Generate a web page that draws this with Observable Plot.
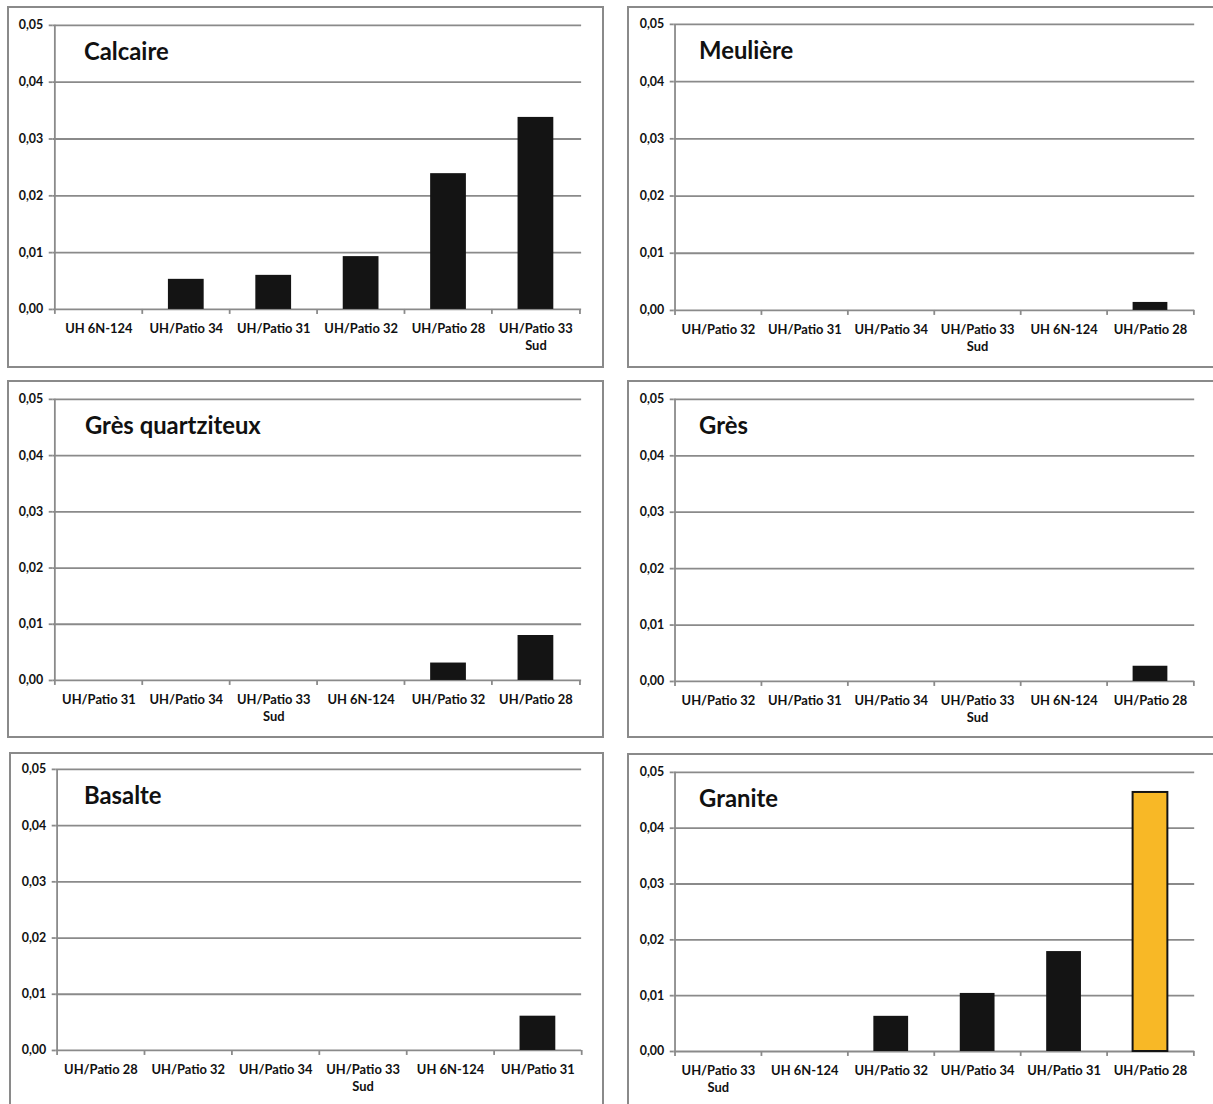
<!DOCTYPE html>
<html>
<head>
<meta charset="utf-8">
<script src="https://cdn.jsdelivr.net/npm/d3@7"></script>
<script src="https://cdn.jsdelivr.net/npm/@observablehq/plot@0.6"></script>
<style>
  html, body { margin: 0; padding: 0; background: #ffffff; }
  body { width: 1213px; height: 1104px; position: relative; overflow: hidden; font-family: Lato, sans-serif; }
  .panel { position: absolute; border: 2px solid #8a8a8a; box-sizing: border-box; background: #fff; }
  .panel svg { position: absolute; left: -2px; top: -2px; }
  .panel svg text { font-weight: 700; }
</style>
</head>
<body>
<script>
// ---- Data ----
const titles = ["Calcaire", "Meulière", "Grès quartziteux", "Grès", "Basalte", "Granite"];

const calcaireCats = ["UH 6N-124", "UH/Patio 34", "UH/Patio 31", "UH/Patio 32", "UH/Patio 28", "UH/Patio 33 Sud"];
const calcaireVals = [0, 0.0053, 0.0060, 0.0093, 0.0239, 0.0338];

const meuliereCats = ["UH/Patio 32", "UH/Patio 31", "UH/Patio 34", "UH/Patio 33 Sud", "UH 6N-124", "UH/Patio 28"];
const meuliereVals = [0, 0, 0, 0, 0, 0.0014];

const gresQuartzCats = ["UH/Patio 31", "UH/Patio 34", "UH/Patio 33 Sud", "UH 6N-124", "UH/Patio 32", "UH/Patio 28"];
const gresQuartzVals = [0, 0, 0, 0, 0.0031, 0.0080];

const gresCats = ["UH/Patio 32", "UH/Patio 31", "UH/Patio 34", "UH/Patio 33 Sud", "UH 6N-124", "UH/Patio 28"];
const gresVals = [0, 0, 0, 0, 0, 0.0027];

const basalteCats = ["UH/Patio 28", "UH/Patio 32", "UH/Patio 34", "UH/Patio 33 Sud", "UH 6N-124", "UH/Patio 31"];
const basalteVals = [0, 0, 0, 0, 0, 0.0061];

const graniteCats = ["UH/Patio 33 Sud", "UH 6N-124", "UH/Patio 32", "UH/Patio 34", "UH/Patio 31", "UH/Patio 28"];
const graniteVals = [0, 0, 0.0063, 0.0104, 0.0179, 0.0464];

const highlightPanel = "Granite";
const highlightCat = "UH/Patio 28";

const yTicks = [0, 0.01, 0.02, 0.03, 0.04, 0.05];

// ---- Layout (pixels) ----
const layout = [
  {box: [7, 6, 597, 362],   plot: [53, 25, 585, 311],    titleDx: 31},
  {box: [627, 6, 600, 362], plot: [674, 24, 1198, 312],  titleDx: 25},
  {box: [7, 380, 597, 358], plot: [53, 399, 585, 682],   titleDx: 32},
  {box: [627, 380, 600, 358], plot: [674, 399, 1198, 683], titleDx: 25},
  {box: [9, 752, 595, 362], plot: [56, 769, 585, 1052],  titleDx: 28},
  {box: [627, 753, 600, 362], plot: [674, 772, 1198, 1053], titleDx: 25}
];

const series = [
  [calcaireCats, calcaireVals],
  [meuliereCats, meuliereVals],
  [gresQuartzCats, gresQuartzVals],
  [gresCats, gresVals],
  [basalteCats, basalteVals],
  [graniteCats, graniteVals]
];

const GRID = "#8a8a8a";
const INK = "#141414";
const GOLD = "#f8b826";

series.forEach(([cats, vals], k) => {
  const title = titles[k];
  const L = layout[k];
  const [bx, by, bw, bh] = L.box;
  const [px0, py0, px1, py1] = L.plot;
  const mL = px0 - bx, mT = py0 - by, mR = bx + bw - px1, mB = by + bh - py1;
  const plotW = px1 - px0, plotH = py1 - py0;
  const band = plotW / cats.length;
  const data = cats.map((c, i) => ({cat: c, v: vals[i], hi: title === highlightPanel && c === highlightCat}));

  const chart = Plot.plot({
    width: bw, height: bh,
    marginLeft: mL, marginRight: mR, marginTop: mT, marginBottom: mB,
    style: {fontFamily: "Lato, sans-serif", fontWeight: "bold", background: "transparent", overflow: "visible", color: "#111"},
    x: {type: "band", domain: cats, padding: 0, axis: null},
    y: {domain: [0, 0.05], axis: null},
    marks: [
      Plot.ruleY(yTicks.filter(d => d > 0), {stroke: GRID, strokeWidth: 1.8}),
      Plot.axisY({ticks: yTicks, tickFormat: d => d.toFixed(2).replace(".", ","), tickSize: 4, tickPadding: 6,
                  stroke: GRID, strokeWidth: 1.8, strokeOpacity: 1, fontSize: 12.5, label: null}),
      // left axis line
      Plot.ruleX(cats.slice(0, 1), {dx: -band / 2, stroke: GRID, strokeWidth: 1.8}),
      // category boundary ticks
      Plot.ruleX(cats, {dx: -band / 2, insetTop: plotH, insetBottom: -5, stroke: GRID, strokeWidth: 1.8}),
      Plot.ruleX(cats.slice(-1), {dx: band / 2, insetTop: plotH, insetBottom: -5, stroke: GRID, strokeWidth: 1.8}),
      Plot.ruleY([0], {stroke: GRID, strokeWidth: 1.8}),
      Plot.barY(data.filter(d => !d.hi), {x: "cat", y: "v", fill: INK, insetLeft: 26, insetRight: 26}),
      Plot.barY(data.filter(d => d.hi), {x: "cat", y: "v", fill: GOLD, stroke: INK, strokeWidth: 2,
                                         insetLeft: 26, insetRight: 26}),
      Plot.axisX({tickSize: 0, tickPadding: 11, fontSize: 13, lineHeight: 1.35,
                  tickFormat: d => d.replace(" Sud", "\nSud"), label: null}),
      Plot.text([title], {frameAnchor: "top-left", dx: L.titleDx, dy: 35, lineAnchor: "bottom",
                          fontSize: 24, fill: "#111", textAnchor: "start"})
    ]
  });

  const div = document.createElement("div");
  div.className = "panel";
  div.style.left = bx + "px";
  div.style.top = by + "px";
  div.style.width = bw + "px";
  div.style.height = bh + "px";
  div.appendChild(chart);
  document.body.appendChild(div);
});
</script>
</body>
</html>
